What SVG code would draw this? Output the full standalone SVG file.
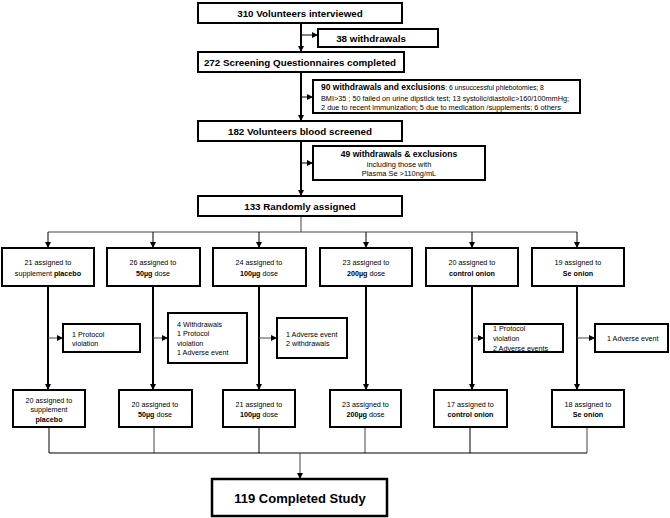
<svg xmlns="http://www.w3.org/2000/svg" width="670" height="518" viewBox="0 0 670 518">
<style>
text{font-family:"Liberation Sans",Arial,sans-serif;fill:#000}
.t{font-size:9.8px;font-weight:bold;text-anchor:middle}
.s{font-size:7.2px;text-anchor:middle}
.l{font-size:7.2px}
.b{font-weight:bold}
.box{fill:#fff;stroke:#000;stroke-width:2}
.thick{stroke:#000;stroke-width:2;fill:none}
.thin{stroke:#000;stroke-width:1;fill:none}
.grey{stroke:#444;stroke-width:1;fill:none}
</style>
<defs>
<marker id="ah" viewBox="0 0 10 10" refX="10" refY="5" markerWidth="6" markerHeight="6" markerUnits="userSpaceOnUse" orient="auto"><path d="M0,0 L10,5 L0,10 z" fill="#000"/></marker>
</defs>
<rect width="670" height="518" fill="#fff"/>
<g id="connectors">
<line class="thick" x1="301" y1="23" x2="301" y2="52" marker-end="url(#ah)"/>
<line class="thin" x1="301" y1="35" x2="318" y2="35" marker-end="url(#ah)"/>
<line class="thick" x1="301" y1="72" x2="301" y2="121" marker-end="url(#ah)"/>
<line class="thin" x1="301" y1="97" x2="313" y2="97" marker-end="url(#ah)"/>
<line class="thick" x1="301" y1="141" x2="301" y2="196" marker-end="url(#ah)"/>
<line class="thin" x1="301" y1="163" x2="313" y2="163" marker-end="url(#ah)"/>
<line class="grey" x1="301" y1="216" x2="301" y2="232"/>
<line class="grey" x1="48" y1="232" x2="577" y2="232"/>
<line class="thin" x1="48" y1="232" x2="48" y2="248" marker-end="url(#ah)"/>
<line class="thin" x1="153" y1="232" x2="153" y2="248" marker-end="url(#ah)"/>
<line class="thin" x1="259" y1="232" x2="259" y2="248" marker-end="url(#ah)"/>
<line class="thin" x1="366" y1="232" x2="366" y2="248" marker-end="url(#ah)"/>
<line class="thin" x1="472" y1="232" x2="472" y2="248" marker-end="url(#ah)"/>
<line class="thin" x1="577" y1="232" x2="577" y2="248" marker-end="url(#ah)"/>
<line class="thick" x1="48" y1="286" x2="48" y2="390" marker-end="url(#ah)"/>
<line class="thick" x1="153" y1="286" x2="153" y2="390" marker-end="url(#ah)"/>
<line class="thick" x1="259" y1="286" x2="259" y2="390" marker-end="url(#ah)"/>
<line class="thick" x1="366" y1="286" x2="366" y2="390" marker-end="url(#ah)"/>
<line class="thick" x1="472" y1="286" x2="472" y2="390" marker-end="url(#ah)"/>
<line class="thick" x1="577" y1="286" x2="577" y2="390" marker-end="url(#ah)"/>
<line class="grey" x1="48" y1="338" x2="63" y2="338" marker-end="url(#ah)"/>
<line class="grey" x1="153" y1="338" x2="168" y2="338" marker-end="url(#ah)"/>
<line class="grey" x1="259" y1="338" x2="277" y2="338" marker-end="url(#ah)"/>
<line class="grey" x1="472" y1="338" x2="484" y2="338" marker-end="url(#ah)"/>
<line class="grey" x1="577" y1="338" x2="595" y2="338" marker-end="url(#ah)"/>
<line class="thin" x1="49" y1="427" x2="49" y2="453"/>
<line class="grey" x1="154" y1="427" x2="154" y2="453"/>
<line class="thin" x1="259" y1="427" x2="259" y2="453"/>
<line class="grey" x1="365" y1="427" x2="365" y2="453"/>
<line class="thin" x1="470" y1="427" x2="470" y2="453"/>
<line class="grey" x1="587" y1="427" x2="587" y2="453"/>
<line class="thin" x1="49" y1="453" x2="587" y2="453"/>
<line class="grey" x1="300" y1="453" x2="300" y2="479" marker-end="url(#ah)"/>
</g>
<g id="n310"><rect class="box" x="198" y="3" width="204" height="20"/><text class="t" x="300" y="17">310 Volunteers interviewed</text></g>
<g id="n38"><rect class="box" x="318" y="29" width="120" height="18"/><text class="t" x="371" y="42">38 withdrawals</text></g>
<g id="n272"><rect class="box" x="198" y="52" width="206" height="20"/><text class="t" x="300" y="66">272 Screening Questionnaires completed</text></g>
<g id="n90"><rect class="box" x="313" y="80" width="267" height="33"/>
<text x="321" y="90"><tspan class="b" font-size="8.5">90 withdrawals and exclusions</tspan><tspan font-size="6.8">: 6 unsuccessful phlebotomies; 8</tspan></text>
<text x="321" y="100.5" font-size="7" textLength="248" lengthAdjust="spacingAndGlyphs">BMI&gt;35 ; 50 failed on urine dipstick test; 13 systolic/diastolic&gt;160/100mmHg;</text>
<text x="321" y="110" font-size="7" textLength="240" lengthAdjust="spacingAndGlyphs">2 due to recent immunization; 5 due to medication /supplements; 6 others</text></g>
<g id="n182"><rect class="box" x="198" y="121" width="204" height="20"/><text class="t" x="300" y="135">182 Volunteers blood screened</text></g>
<g id="n49"><rect class="box" x="313" y="146" width="172" height="34"/>
<text x="399" y="157" font-size="8.6" font-weight="bold" text-anchor="middle">49  withdrawals &amp; exclusions</text>
<text x="399" y="167" font-size="7.4" text-anchor="middle">including  those with</text>
<text x="399" y="176" font-size="7.4" text-anchor="middle">Plasma Se &gt;110ng/mL</text></g>
<g id="n133"><rect class="box" x="198" y="196" width="204" height="20"/><text class="t" x="300" y="210">133 Randomly assigned</text></g>

<g id="a1"><rect class="box" x="2" y="248" width="92" height="38"/><text class="s" x="48" y="265">21 assigned to</text><text class="s" x="48" y="276">supplement <tspan class="b">placebo</tspan></text></g>
<g id="a2"><rect class="box" x="107" y="248" width="93" height="38"/><text class="s" x="153" y="265">26 assigned to</text><text class="s" x="153" y="276"><tspan class="b">50µg</tspan> dose</text></g>
<g id="a3"><rect class="box" x="213" y="248" width="93" height="38"/><text class="s" x="259" y="265">24 assigned to</text><text class="s" x="259" y="276"><tspan class="b">100µg</tspan>  dose</text></g>
<g id="a4"><rect class="box" x="320" y="248" width="92" height="38"/><text class="s" x="366" y="265">23 assigned to</text><text class="s" x="366" y="276"><tspan class="b">200µg</tspan> dose</text></g>
<g id="a5"><rect class="box" x="426" y="248" width="92" height="38"/><text class="s" x="472" y="265">20 assigned to</text><text class="s" x="472" y="276"><tspan class="b">control onion</tspan></text></g>
<g id="a6"><rect class="box" x="532" y="248" width="92" height="38"/><text class="s" x="578" y="265">19 assigned to</text><text class="s" x="578" y="276"><tspan class="b">Se onion</tspan></text></g>

<g id="x1"><rect class="box" x="63" y="324" width="77" height="28"/><text class="l" x="72" y="336.5">1 Protocol</text><text class="l" x="72" y="346">violation</text></g>
<g id="x2"><rect class="box" x="168" y="313" width="79" height="50"/><text class="l" x="177" y="326.5">4 Withdrawals</text><text class="l" x="177" y="336">1 Protocol</text><text class="l" x="177" y="345.5">violation</text><text class="l" x="177" y="355">1 Adverse event</text></g>
<g id="x3"><rect class="box" x="277" y="318" width="70" height="40"/><text class="l" x="286" y="336.5">1 Adverse event</text><text class="l" x="286" y="346">2 withdrawals</text></g>
<g id="x5"><rect class="box" x="484" y="324" width="79" height="28"/><text class="l" x="493" y="330.5">1 Protocol</text><text class="l" x="493" y="340.5">violation</text><text class="l" x="493" y="350.5">2 Adverse events</text></g>
<g id="x6"><rect class="box" x="595" y="324" width="73" height="28"/><text class="l" x="607" y="340.5">1 Adverse event</text></g>

<g id="b1"><rect class="box" x="13" y="390" width="72" height="37"/><text class="s" x="49" y="402.5">20 assigned to</text><text class="s" x="49" y="412">supplement</text><text class="s b" x="49" y="421.5">placebo</text></g>
<g id="b2"><rect class="box" x="119" y="390" width="73" height="37"/><text class="s" x="155" y="406.5">20 assigned to</text><text class="s" x="155" y="416.5"><tspan class="b">50µg</tspan> dose</text></g>
<g id="b3"><rect class="box" x="223" y="390" width="72" height="37"/><text class="s" x="259" y="406.5">21 assigned to</text><text class="s" x="259" y="416.5"><tspan class="b">100µg</tspan>  dose</text></g>
<g id="b4"><rect class="box" x="330" y="390" width="71" height="37"/><text class="s" x="365.5" y="406.5">23 assigned to</text><text class="s" x="365.5" y="416.5"><tspan class="b">200µg</tspan> dose</text></g>
<g id="b5"><rect class="box" x="434" y="390" width="73" height="37"/><text class="s" x="470.5" y="406.5">17 assigned to</text><text class="s b" x="470.5" y="416.5">control onion</text></g>
<g id="b6"><rect class="box" x="552" y="390" width="72" height="37"/><text class="s" x="588" y="406.5">18 assigned to</text><text class="s b" x="588" y="416.5">Se onion</text></g>

<g id="final"><rect x="212" y="479" width="175" height="37" fill="#fff" stroke="#000" stroke-width="2.5"/><text x="300" y="503" font-size="13" font-weight="bold" text-anchor="middle">119 Completed Study</text></g>
</svg>
